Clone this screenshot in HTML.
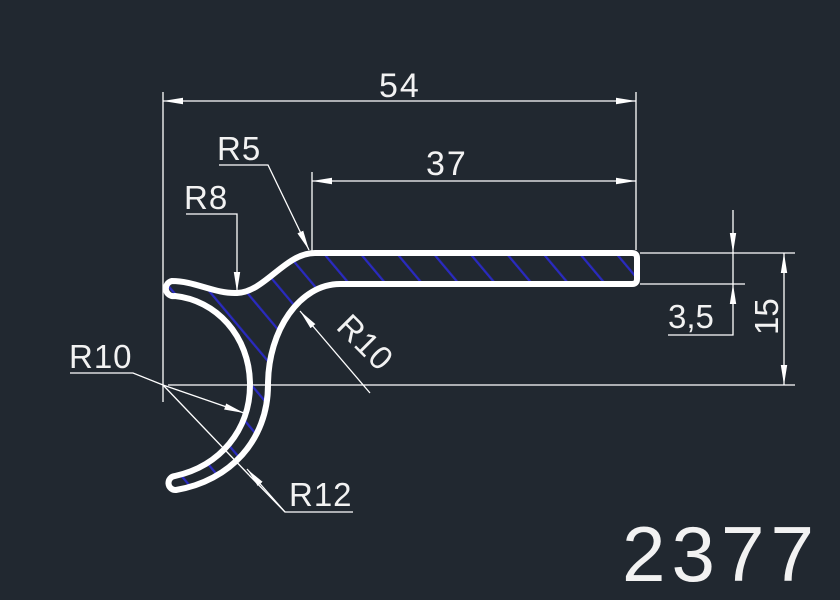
<!DOCTYPE html>
<html><head><meta charset="utf-8"><style>
html,body{margin:0;padding:0;background:#212830;}
svg{display:block}
text{font-family:"Liberation Sans",sans-serif;fill:#f2f2f2;}
</style></head><body>
<svg width="840" height="600" viewBox="0 0 840 600" xmlns="http://www.w3.org/2000/svg">
<defs>
<pattern id="h" width="28" height="28" patternUnits="userSpaceOnUse" patternTransform="rotate(-40)">
<line x1="0" y1="0" x2="0" y2="28" stroke="#2a2ac0" stroke-width="4.5"/>
</pattern>
<marker id="a" viewBox="0 0 10 10" refX="10" refY="5" markerWidth="20" markerHeight="8" markerUnits="userSpaceOnUse" orient="auto-start-reverse" preserveAspectRatio="none">
<path d="M0,1 L10,5 L0,9 Z" fill="#fff"/>
</marker>
</defs>
<rect width="840" height="600" fill="#212830"/>
<g stroke="#fff" stroke-width="1.3" fill="none">
<line x1="163" y1="92" x2="163" y2="402"/>
<line x1="636" y1="92" x2="636" y2="250"/>
<line x1="312" y1="172" x2="312" y2="255"/>
<line x1="168" y1="385" x2="795" y2="385"/>
<line x1="640" y1="253" x2="795" y2="253"/>
<line x1="640" y1="284" x2="745" y2="284"/>
<line x1="163" y1="101" x2="636" y2="101" marker-start="url(#a)" marker-end="url(#a)"/>
<line x1="312" y1="181" x2="636" y2="181" marker-start="url(#a)" marker-end="url(#a)"/>
<polyline points="219,165 268,165 309,250" marker-end="url(#a)"/>
<polyline points="186,214 237,214 237,292" marker-end="url(#a)"/>
<line x1="370" y1="393" x2="300" y2="311" marker-end="url(#a)"/>
<polyline points="70,373 133,373 163,385 244,413" marker-end="url(#a)"/>
<polyline points="353,512 285,512 249,475"/>
<line x1="163" y1="385" x2="249" y2="475"/>
<line x1="285" y1="512" x2="247" y2="469" marker-end="url(#a)"/>
<line x1="733" y1="210" x2="733" y2="253" marker-end="url(#a)"/>
<polyline points="668,335 733,335 733,284" marker-end="url(#a)"/>
<line x1="733" y1="253" x2="733" y2="284"/>
<line x1="784" y1="253" x2="784" y2="385" marker-start="url(#a)" marker-end="url(#a)"/>
</g>
<path d="M172,281 C195,281 215,294 237,293 C265,292 285,253 315,253 L632,253 Q637,253 637,258 L637,279 Q637,284 632,284 L340,284 C300,284 268,330 268,385 C268,440 230,481 176,490 A7 7 0 0 1 175,476 C220,466 250,430 250,385 C250,335 215,300 175,296 A7.5 7.5 0 0 1 172,281 Z" fill="url(#h)" stroke="#fff" stroke-width="6" stroke-linejoin="round"/>
<text x="379" y="97" font-size="34" letter-spacing="2">54</text>
<text x="426" y="175" font-size="34" letter-spacing="2">37</text>
<text x="217" y="160" font-size="33" letter-spacing="1">R5</text>
<text x="184" y="209" font-size="33" letter-spacing="1">R8</text>
<text x="69" y="368" font-size="33" letter-spacing="1">R10</text>
<text x="289" y="506" font-size="33" letter-spacing="1">R12</text>
<text x="0" y="0" font-size="33" letter-spacing="1" transform="translate(335,328) rotate(45)">R10</text>
<text x="668" y="328" font-size="33">3,5</text>
<text x="0" y="0" font-size="33" transform="translate(778,335) rotate(-90)">15</text>
<text x="622" y="581" font-size="78" letter-spacing="6" textLength="198" lengthAdjust="spacingAndGlyphs">2377</text>
</svg>
</body></html>
